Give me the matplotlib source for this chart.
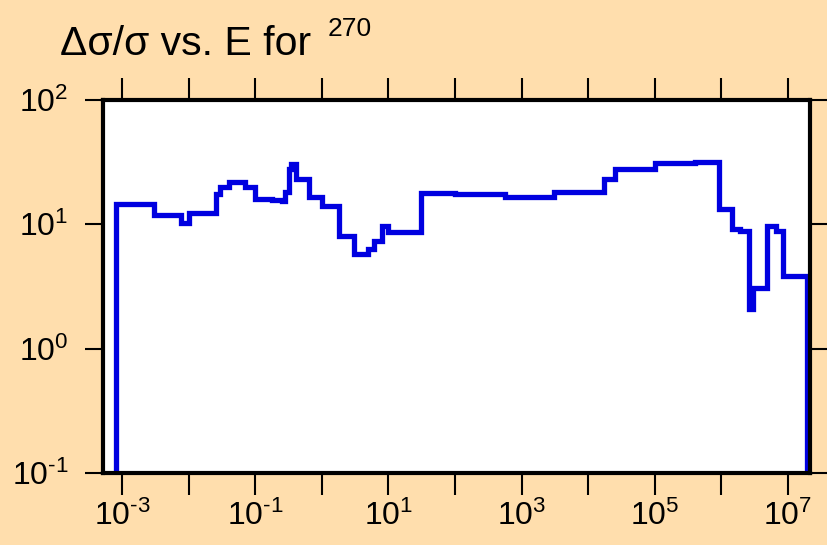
import numpy as np
import matplotlib
matplotlib.use("Agg")
from matplotlib import pyplot as plt

plt.rcParams["font.family"] = ["Liberation Sans", "DejaVu Sans"]
plt.rcParams["mathtext.fontset"] = "custom"
plt.rcParams["mathtext.rm"] = "Liberation Sans"
plt.rcParams["mathtext.default"] = "regular"

# bin edges (energy) and step values
energy_edges = [8.0e-4, 3.0e-3, 7.6e-3, 1.0e-2, 2.6e-2, 3.0e-2, 4.0e-2, 7.1e-2,
                0.10, 0.18, 0.25, 0.28, 0.32, 0.35, 0.41, 0.65, 1.02, 1.8,
                3.0, 4.9, 6.0, 8.1, 10.0, 31.0, 100.0, 560.0, 3.1e3, 1.7e4,
                2.5e4, 1.0e5, 4.0e5, 9.3e5, 1.45e6, 1.9e6, 2.6e6, 3.0e6,
                4.9e6, 6.6e6, 8.5e6, 1.95e7]
rel_unc = [14.6, 11.8, 10.2, 12.3, 17.5, 19.9, 22.0, 19.9,
           16.0, 15.6, 15.4, 18.2, 27.9, 30.4, 23.1, 16.5, 14.1,
           8.1, 5.77, 6.37, 7.34, 9.7, 8.6, 17.9, 17.7, 16.7, 18.3,
           23.0, 27.9, 30.9, 31.5, 13.3, 9.2, 8.9, 2.08, 3.09,
           9.7, 8.9, 3.84]

x_ticks = [1e-3, 1e-2, 1e-1, 1e0, 1e1, 1e2, 1e3, 1e4, 1e5, 1e6, 1e7]
x_ticklabels = [r"$10^{\text{-}3}$", "", r"$10^{\text{-}1}$", "", r"$10^{1}$", "",
                r"$10^{3}$", "", r"$10^{5}$", "", r"$10^{7}$"]
y_ticks = [0.1, 1, 10, 100]
y_ticklabels = [r"$10^{\text{-}1}$", r"$10^{0}$", r"$10^{1}$", r"$10^{2}$"]

bg = "#FFDEAD"

fig = plt.figure(figsize=(8.27, 5.45), dpi=100, facecolor=bg)
ax = fig.add_axes([103 / 827, 1 - 473 / 545, 707 / 827, 373 / 545])
ax.set_facecolor("white")

# step curve, closed down to the bottom at both ends
ax.stairs(rel_unc, energy_edges, baseline=1e-3, color="#0000E0",
          linewidth=3.8, zorder=3)

ax.set_xscale("log")
ax.set_yscale("log")
ax.set_xlim(10 ** -3.285, 10 ** 7.33)
ax.set_ylim(0.1, 100)

ax.set_xticks(x_ticks)
ax.set_xticklabels(x_ticklabels)
ax.set_yticks(y_ticks)
ax.set_yticklabels(y_ticklabels)
ax.minorticks_off()

ax.tick_params(axis="both", direction="out", length=16, width=1.5,
               labelsize=23, color="black")
ax.tick_params(axis="x", top=True, pad=4)
ax.tick_params(axis="y", right=True, pad=12, length=13)

for s in ax.spines.values():
    s.set_linewidth(3)
    s.set_zorder(4)

fig.text(60 / 827, 1 - 55 / 545, "\u0394\u03c3/\u03c3 vs. E for",
         fontsize=29.5, va="baseline", ha="left")
fig.text(328 / 827, 1 - 36 / 545, "270", fontsize=19, va="baseline",
         ha="left")

fig.savefig("out.png", dpi=100, facecolor=bg)
